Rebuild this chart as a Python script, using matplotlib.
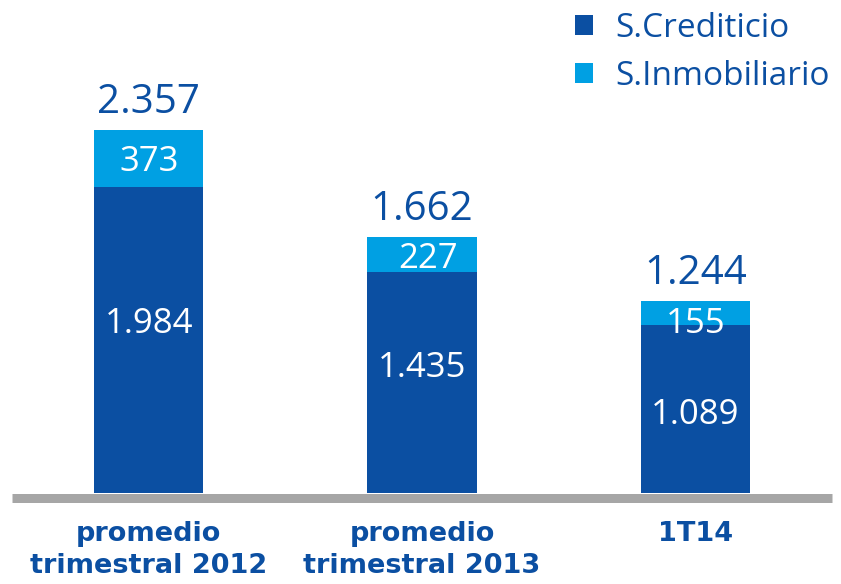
import matplotlib
matplotlib.use('Agg')
import matplotlib.pyplot as plt

# Colors
DARK = '#0b4fa2'
LIGHT = '#00a0e3'
GRAY = '#a6a6a6'

# Data
categories = ['promedio\ntrimestral 2012', 'promedio\ntrimestral 2013', '1T14']
crediticio = [1984, 1435, 1089]
inmobiliario = [373, 227, 155]
totals = [2357, 1662, 1244]
series_names = ['S.Crediticio', 'S.Inmobiliario']

# Label nudges in pixels (up, right)
dark_shift = [20, 18, -2]
light_shift = [(0, 0), (-1, 6), (-7, 0)]

PX = 0.72  # points per pixel at dpi 100


def fmt(v):
    return f'{v:,}'.replace(',', '.')


plt.rcParams['font.family'] = ['Open Sans', 'DejaVu Sans']

fig = plt.figure(figsize=(8.41, 5.84), dpi=100)
ax = fig.add_axes([12 / 841, 91 / 584, 820 / 841, 493 / 584])

x = range(len(categories))
b1 = ax.bar(x, crediticio, width=0.4, color=DARK, zorder=2)
b2 = ax.bar(x, inmobiliario, width=0.4, bottom=crediticio, color=LIGHT, zorder=2)

ax.set_xlim(-0.5, 2.5)
ax.set_ylim(0, 493 * 2357 / 363)

for i in x:
    c, m, t = crediticio[i], inmobiliario[i], totals[i]
    ax.annotate(fmt(t), xy=(i, c + m), xytext=(0, 17 * PX), textcoords='offset points',
                ha='center', va='baseline', fontsize=29, color=DARK)
    ax.annotate(fmt(m), xy=(i, c + m / 2),
                xytext=(light_shift[i][1] * PX, (light_shift[i][0] - 12.5) * PX),
                textcoords='offset points', ha='center', va='baseline', fontsize=25, color='white')
    ax.annotate(fmt(c), xy=(i, c / 2), xytext=(0, (dark_shift[i] - 12.5) * PX),
                textcoords='offset points', ha='center', va='baseline', fontsize=25, color='white')

for s in ['top', 'left', 'right']:
    ax.spines[s].set_visible(False)
ax.spines['bottom'].set_color(GRAY)
ax.spines['bottom'].set_linewidth(9 * PX)
ax.spines['bottom'].set_capstyle('butt')
ax.spines['bottom'].set_position(('outward', 4.5 * PX))
ax.set_yticks([])
ax.set_xticks(list(x))
ax.set_xticklabels(categories, fontsize=19.5, fontweight='bold', color=DARK,
                   family='DejaVu Sans', linespacing=1.3)
ax.tick_params(axis='x', length=0, pad=17)

ax.legend([b1, b2], series_names, loc='upper left', frameon=False,
          bbox_to_anchor=(575 / 841, 1 - 12 / 584), bbox_transform=fig.transFigure,
          borderpad=0, borderaxespad=0, fontsize=24, labelcolor=DARK,
          handlelength=0.55, handleheight=0.55, handletextpad=0.65, labelspacing=0.45)

fig.savefig('out.png', dpi=100)
